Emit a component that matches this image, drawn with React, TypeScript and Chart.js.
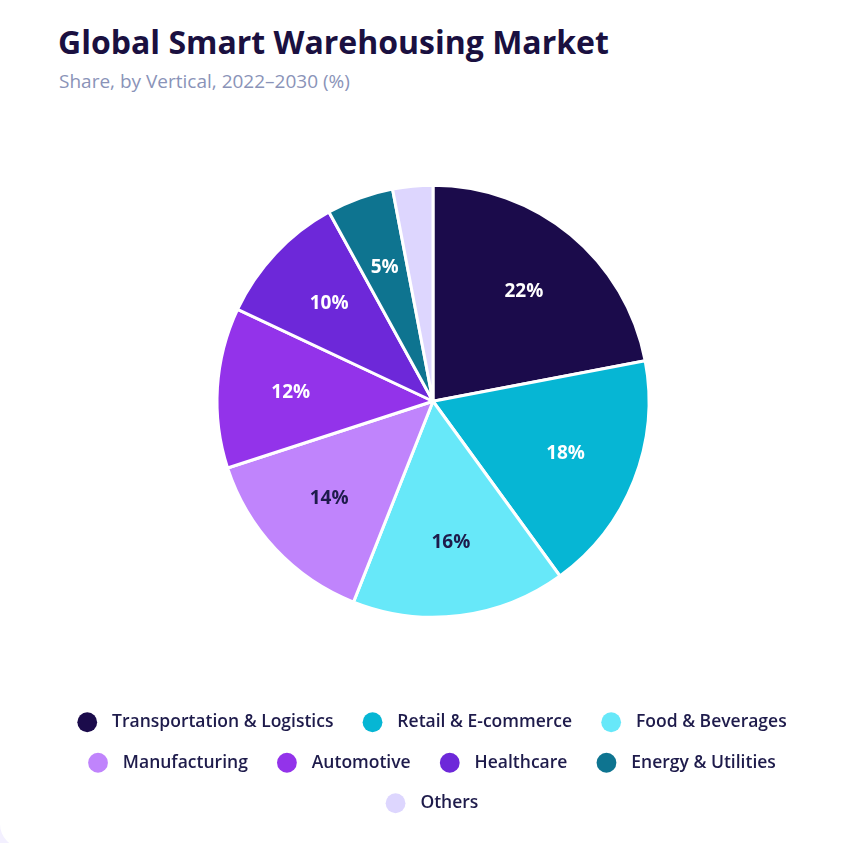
import { useEffect, useRef } from 'react'
import { Chart, PieController, ArcElement, Legend, Tooltip } from 'chart.js'
import type { Plugin } from 'chart.js'

Chart.register(PieController, ArcElement, Legend, Tooltip)

const VERTICALS = [
  'Transportation & Logistics',
  'Retail & E-commerce',
  'Food & Beverages',
  'Manufacturing',
  'Automotive',
  'Healthcare',
  'Energy & Utilities',
  'Others',
]

const SHARES = [22, 18, 16, 14, 12, 10, 5, 3]

const SLICE_COLORS = [
  '#1b0b4b',
  '#06b6d4',
  '#67e8f9',
  '#c084fc',
  '#9333ea',
  '#6d28d9',
  '#0e7490',
  '#ddd6fe',
]

// dark text on the light slices, white on the rest
const LABEL_COLORS = ['#fff', '#fff', '#1e1b4b', '#1e1b4b', '#fff', '#fff', '#fff', '#1e1b4b']

const FONT = '"Open Sans", "Noto Sans", sans-serif'

const sliceLabels: Plugin<'pie'> = {
  id: 'sliceLabels',
  afterDatasetsDraw(chart) {
    const { ctx } = chart
    const meta = chart.getDatasetMeta(0)
    ctx.save()
    ctx.font = `700 19px ${FONT}`
    ctx.textAlign = 'center'
    ctx.textBaseline = 'middle'
    meta.data.forEach((el, i) => {
      const v = SHARES[i]
      if (v < 5) return
      const { x, y, startAngle, endAngle, outerRadius } = el.getProps(
        ['x', 'y', 'startAngle', 'endAngle', 'outerRadius'],
        true
      ) as any
      const mid = (startAngle + endAngle) / 2
      const r = outerRadius * 0.66
      ctx.fillStyle = LABEL_COLORS[i]
      ctx.fillText(`${v}%`, x + Math.cos(mid) * r, y + Math.sin(mid) * r)
    })
    ctx.restore()
  },
}

// trailing spaces in the labels push rows left; nudge the legend back to center
const legendNudge: Plugin<'pie'> = {
  id: 'legendNudge',
  afterLayout(chart) {
    const lg = chart.legend as any
    if (!lg) return
    lg.left += 5
    lg.right += 5
  },
}

export default function App() {
  const canvasRef = useRef<HTMLCanvasElement>(null)
  const chartRef = useRef<Chart<'pie'> | null>(null)

  useEffect(() => {
    if (!canvasRef.current) return
    if (chartRef.current) chartRef.current.destroy()

    chartRef.current = new Chart(canvasRef.current, {
      type: 'pie',
      data: {
        labels: VERTICALS,
        datasets: [
          {
            data: SHARES,
            backgroundColor: SLICE_COLORS,
            borderColor: '#ffffff',
            borderWidth: 3,
            radius: 216,
          },
        ],
      },
      options: {
        responsive: true,
        maintainAspectRatio: false,
        animation: false,
        layout: { padding: 0 },
        plugins: {
          legend: {
            position: 'bottom',
            labels: {
              usePointStyle: true,
              pointStyle: 'circle',
              boxHeight: 14,
              boxWidth: 14,
              padding: 23,
              color: '#1e1b4b',
              font: { family: FONT, size: 17.5, weight: 600 },
              generateLabels(chart) {
                const base = Chart.overrides.pie.plugins.legend.labels.generateLabels(chart)
                return base.map(item => ({
                  ...item,
                  text: `  ${item.text}  `,
                  strokeStyle: item.fillStyle,
                  lineWidth: 0,
                }))
              },
            },
          },
          tooltip: { enabled: false },
        },
      },
      plugins: [sliceLabels, legendNudge],
    })

    return () => {
      if (chartRef.current) {
        chartRef.current.destroy()
        chartRef.current = null
      }
    }
  }, [])

  return (
    <div style={{ position: 'fixed', inset: 0, background: '#f3f0ff', overflow: 'hidden' }}>
      <div
        style={{
          position: 'absolute',
          left: 0,
          top: -30,
          width: 880,
          height: 878,
          background: '#fff',
          borderRadius: 24,
        }}
      />
      <div
        style={{
          position: 'absolute',
          left: 58,
          top: 22,
          fontFamily: FONT,
          fontWeight: 700,
          fontSize: 32,
          color: '#1a1040',
          whiteSpace: 'nowrap',
          lineHeight: '40px',
        }}
      >
        Global Smart Warehousing Market
      </div>
      <div
        style={{
          position: 'absolute',
          left: 59,
          top: 69,
          fontFamily: FONT,
          fontSize: 19,
          color: '#8a93b8',
          whiteSpace: 'nowrap',
          lineHeight: '24px',
        }}
      >
        Share, by Vertical, 2022–2030 (%)
      </div>
      <div style={{ position: 'absolute', left: 33, width: 800, top: 112, height: 710 }}>
        <canvas ref={canvasRef} />
      </div>
    </div>
  )
}
